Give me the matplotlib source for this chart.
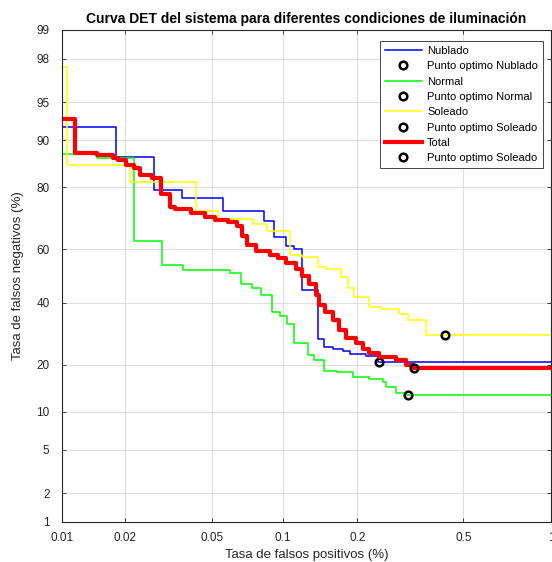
import math
from statistics import NormalDist

import matplotlib
matplotlib.use('Agg')
import matplotlib.pyplot as plt
import numpy as np

plt.rc('font', **{'family': 'sans-serif', 'sans-serif': ['Liberation Sans', 'DejaVu Sans']})
plt.rc('xtick', labelsize=8.5)
plt.rc('ytick', labelsize=8.5)

# DET curves, values in % (false positives, false negatives)
nub_fp = [0.0100, 0.0181, 0.0274, 0.0366, 0.0555, 0.0833, 0.0918, 0.1036, 0.1118, 0.120,
          0.139, 0.147, 0.160, 0.176, 0.187, 0.217, 0.240, 1.0]
nub_fn = [92.1, 87.0, 79.2, 77.0, 73.1, 69.9, 64.4, 61.3, 59.9, 44.9,
          27.6, 25.2, 24.5, 23.8, 23.1, 22.4, 20.9, 20.9]

nor_fp = [0.0100, 0.0147, 0.0221, 0.0296, 0.0370, 0.0594, 0.0667, 0.0742, 0.0814, 0.0902,
          0.0973, 0.1046, 0.1118, 0.1268, 0.135, 0.148, 0.167, 0.192, 0.223, 0.251,
          0.259, 0.282, 0.304, 1.0]
nor_fn = [87.6, 86.8, 63.1, 54.1, 52.2, 51.2, 46.8, 45.5, 42.7, 36.6,
          35.2, 32.6, 26.4, 22.8, 21.3, 18.4, 18.1, 17.0, 16.5, 15.7,
          14.8, 13.5, 13.0, 13.0]

sol_fp = [0.0100, 0.0106, 0.0211, 0.0424, 0.0528, 0.0748, 0.0855, 0.1076, 0.1196, 0.139,
          0.1505, 0.173, 0.184, 0.1935, 0.223, 0.248, 0.2906, 0.312, 0.366, 1.0]
sol_fn = [97.6, 85.2, 81.4, 73.0, 70.4, 68.7, 66.4, 58.0, 57.1, 53.4,
          52.5, 49.7, 45.5, 42.2, 38.5, 37.8, 36.1, 34.0, 28.8, 28.8]

tot_fp = [0.0100, 0.0116, 0.0147, 0.0175, 0.0185, 0.0202, 0.0221, 0.0235, 0.0267, 0.0293,
          0.0322, 0.0339, 0.0403, 0.0462, 0.0511, 0.0583, 0.0637, 0.0669, 0.0703, 0.0775,
          0.088, 0.0954, 0.1033, 0.1136, 0.1205, 0.1288, 0.137, 0.1414, 0.1495, 0.160,
          0.170, 0.181, 0.198, 0.210, 0.223, 0.244, 0.282, 0.308, 0.326, 1.0]
tot_fn = [93.1, 87.7, 87.3, 86.7, 86.3, 85.4, 84.7, 83.0, 82.3, 78.2,
          74.2, 73.8, 72.5, 71.3, 70.2, 69.4, 68.1, 64.6, 61.7, 59.3,
          58.0, 56.8, 55.0, 52.5, 50.0, 46.8, 43.0, 39.3, 36.8, 34.0,
          30.6, 27.9, 26.4, 24.5, 23.3, 22.3, 21.4, 20.1, 19.2, 19.2]

# optimum points (fp %, fn %)
opt_nub = (0.243, 20.8)
opt_nor = (0.313, 13.0)
opt_sol = (0.430, 28.7)
opt_tot = (0.330, 19.3)

xticks = [0.01, 0.02, 0.05, 0.1, 0.2, 0.5, 1]
xticklabels = ['0.01', '0.02', '0.05', '0.1', '0.2', '0.5', '1']
yticks = [1, 2, 5, 10, 20, 40, 60, 80, 90, 95, 98, 99]

_nd = NormalDist()


def _inv(v):
    if not np.isfinite(v):
        return np.nan
    return _nd.inv_cdf(min(max(v, 1e-12), 1 - 1e-12))


_ppf = np.vectorize(_inv, otypes=[float])
_cdf = np.vectorize(lambda z: 0.5 * (1 + math.erf(z / math.sqrt(2))) if np.isfinite(z) else np.nan,
                    otypes=[float])


def probit_pct(v):  # % -> normal deviate
    return _ppf(np.asarray(v, dtype=float) / 100.0)


def probit_pct_inv(z):
    return _cdf(np.asarray(z, dtype=float)) * 100.0


fig = plt.figure(figsize=(5.52, 5.62), dpi=100)
ax = fig.add_axes([62 / 552, 1 - 522 / 562, 489 / 552, 492 / 562])
ax.set_xscale('function', functions=(probit_pct, probit_pct_inv))
ax.set_yscale('function', functions=(probit_pct, probit_pct_inv))

ax.step(nub_fp, nub_fn, where='post', color='#0000ff', lw=1.1, label='Nublado')
ax.plot(*opt_nub, 'o', mfc='none', mec='k', mew=1.8, ms=5.5, label='Punto optimo Nublado')
ax.step(nor_fp, nor_fn, where='post', color='#00ff00', lw=1.1, label='Normal')
ax.plot(*opt_nor, 'o', mfc='none', mec='k', mew=1.8, ms=5.5, label='Punto optimo Normal')
ax.step(sol_fp, sol_fn, where='post', color='#ffff00', lw=1.1, label='Soleado')
ax.plot(*opt_sol, 'o', mfc='none', mec='k', mew=1.8, ms=5.5, label='Punto optimo Soleado')
ax.step(tot_fp, tot_fn, where='post', color='#ff0000', lw=3.0, label='Total')
ax.plot(*opt_tot, 'o', mfc='none', mec='k', mew=1.8, ms=5.5, label='Punto optimo Soleado')

ax.set_xlim(0.01, 1)
ax.set_ylim(1, 99)
ax.set_xticks(xticks)
ax.set_xticklabels(xticklabels)
ax.set_yticks(yticks)
ax.set_yticklabels([str(t) for t in yticks])
ax.minorticks_off()
ax.grid(True, color='#dedede', lw=0.8)
ax.set_axisbelow(True)
ax.tick_params(direction='in', top=True, right=True, colors='#262626', length=3, width=0.6)
ax.tick_params(axis='y', pad=9)
ax.tick_params(axis='x', pad=7)
for s in ax.spines.values():
    s.set_color('#262626')
    s.set_linewidth(0.8)

ax.set_xlabel('Tasa de falsos positivos (%)', fontsize=9.5, color='#262626', labelpad=4)
ax.set_ylabel('Tasa de falsos negativos (%)', fontsize=9.5, color='#262626', labelpad=9)
ax.set_title('Curva DET del sistema para diferentes condiciones de iluminación',
             fontsize=10, fontweight='bold', pad=5)

leg = ax.legend(loc='upper right', bbox_to_anchor=(0.9836, 0.9776), borderaxespad=0,
                fontsize=8, fancybox=False, edgecolor='#262626', framealpha=1,
                handlelength=3.3, labelspacing=0.48, borderpad=0.45, handletextpad=0.5)
leg.get_frame().set_linewidth(0.6)

fig.savefig('out.png', dpi=100)
